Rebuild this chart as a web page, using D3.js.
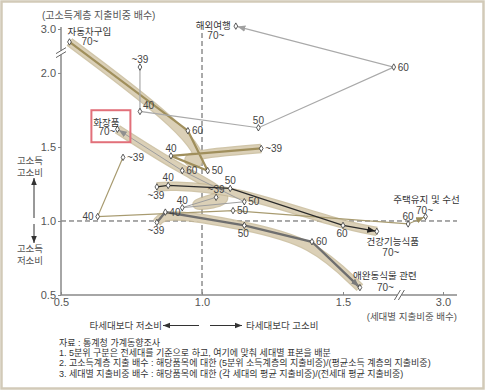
<!DOCTYPE html>
<html><head><meta charset="utf-8">
<script src="https://cdn.jsdelivr.net/npm/d3@7/dist/d3.min.js"></script>
<style>
body{margin:0;background:#fff}
svg{display:block}
text{font-family:"Liberation Sans","Noto Sans CJK KR",sans-serif}
</style>
</head><body>
<svg id="chart" width="485" height="390"></svg>
<script>
// ---------- data ----------
const ages = ["~39", "40", "50", "60", "70~"];
const categories = ["자동차구입", "해외여행", "화장품", "주택유지 및 수선", "건강기능식품", "애완동식물 관련"];
// x: 세대별 지출비중 배수, y: 고소득계층 지출비중 배수  (order: ~39, 40, 50, 60, 70~)
const xCar    = [1.21, 0.89, 1.02, 0.95, 0.53];
const yCar    = [1.49, 1.44, 1.34, 1.61, 2.55];
const xTravel = [0.78, 0.78, 1.20, 1.68, 1.12];
const yTravel = [2.04, 1.74, 1.63, 2.04, 3.10];
const xCosm   = [1.05, 0.93, 1.15, 0.93, 0.70];
const yCosm   = [1.16, 1.09, 1.13, 1.34, 1.62];
const xHouse  = [0.72, 0.63, 1.11, 2.60, 2.80];
const yHouse  = [1.43, 1.03, 1.07, 0.98, 1.03];
const xHealth = [0.84, 0.88, 1.10, 1.50, 1.62];
const yHealth = [1.23, 1.24, 1.22, 0.97, 0.93];
const xPet    = [0.84, 0.87, 1.15, 1.39, 1.56];
const yPet    = [0.99, 1.06, 0.97, 0.86, 0.55];
const xTicks = [0.5, 1.0, 1.5, 3.0];
const yTicks = [0.5, 1.0, 1.5, 2.0, 3.0];
const yTitle = "(고소득계층 지출비중 배수)";
const xTitle = "(세대별 지출비중 배수)";
const sideUp = ["고소득", "고소비"];
const sideDown = ["고소득", "저소비"];
const lowText = "타세대보다 저소비";
const highText = "타세대보다 고소비";
const notes = [
  "자료 : 통계청 가계동향조사",
  "1. 5분위 구분은 전세대를 기준으로 하고, 여기에 맞춰 세대별 표본을 배분",
  "2. 고소득계층 지출 배수 : 해당품목에 대한 (5분위 소득계층의 지출비중)/(평균소득 계층의 지출비중)",
  "3. 세대별 지출비중 배수 : 해당품목에 대한 (각 세대의 평균 지출비중)/(전세대 평균 지출비중)"
];

// ---------- styles ----------
const styles = [
  {band:true,  color:"#a08f5c", lw:2.2, arrow:null,      lab:["r","t","r","r"], nameAt:[-2,-6.5,"start"], ageAt:[12,3.5,"start"]},
  {band:false, color:"#a9a9a9", lw:1.2, arrow:"#a0a0a0", lab:["t","tr","t","r"], nameAt:[-5,2.5,"end"],    ageAt:[-20,12.5,"middle"]},
  {band:true,  color:"#9d9d9d", lw:1.0, arrow:"#8f8f8f", lab:["t","t","r","r"],   nameAt:[-11,-3.5,"middle"], ageAt:[-2,6,"end"], box:true},
  {band:false, color:"#a89b70", lw:1.2, arrow:"#9e9060", lab:["r","l","r","t"],   nameAt:[1,-14,"middle"],  ageAt:[-1,-3,"middle"]},
  {band:true,  color:"#2a2a2a", lw:1.3, arrow:"#222",    lab:["b","t","t","b"],   nameAt:[16,13.5,"middle"], ageAt:[14,24.5,"middle"]},
  {band:true,  color:"#6f6f6f", lw:2.4, arrow:"#7a7a7a", lab:["b","r","b","r"],   nameAt:[25,-8.5,"middle"], ageAt:[17,3.5,"start"]}
];
const xsAll = [xCar, xTravel, xCosm, xHouse, xHealth, xPet];
const ysAll = [yCar, yTravel, yCosm, yHouse, yHealth, yPet];
const off = {r:[4,3.5,"start"], l:[-4,3.5,"end"], t:[0,-4,"middle"], b:[-1,12,"middle"], tr:[3,-2,"start"]};

// ---------- scales ----------
const svg = d3.select("#chart");
const x = d3.scaleLinear().domain([0.5, 1.7, 2.5, 3.0]).range([61, 399.4, 399.4, 443]);
const y = d3.scaleLinear().domain([0.5, 2.135, 2.2, 3.0]).range([295, 53, 52, 29]);
const plotL = 61, plotR = 457, plotT = 27, plotB = 295;

// frame
svg.append("rect").attr("x",1.5).attr("y",1.5).attr("width",482).attr("height",387)
  .attr("fill","#fff").attr("stroke","#d2cab8").attr("stroke-width",2.5);

// reference dashed lines
svg.append("line").attr("x1",x(1)).attr("x2",x(1)).attr("y1",33).attr("y2",plotB)
  .attr("stroke","#555").attr("stroke-dasharray","5,3").attr("stroke-width",1);
svg.append("line").attr("x1",plotL).attr("x2",plotR).attr("y1",y(1)).attr("y2",y(1))
  .attr("stroke","#555").attr("stroke-dasharray","5,3").attr("stroke-width",1);

// axes
const gy = svg.append("g").attr("transform",`translate(${plotL},0)`)
  .call(d3.axisLeft(y).tickValues(yTicks).tickSize(3).tickPadding(2).tickFormat(d3.format(".1f")));
const gx = svg.append("g").attr("transform",`translate(0,${plotB})`)
  .call(d3.axisBottom(x).tickValues(xTicks).tickSize(-3).tickPadding(3).tickFormat(d3.format(".1f")));
[gx, gy].forEach(g => {
  g.select(".domain").remove();
  g.selectAll("line").attr("stroke","#888");
  g.selectAll("text").attr("fill","#555").style("font-size","11px");
});
svg.append("line").attr("x1",plotL).attr("x2",plotL).attr("y1",plotT).attr("y2",plotB).attr("stroke","#888").attr("stroke-width",1.5);
svg.append("line").attr("x1",plotL).attr("x2",plotR).attr("y1",plotB).attr("y2",plotB).attr("stroke","#888").attr("stroke-width",1.5);

// axis breaks
const yb = y(2.16), xb = x(1.7);
svg.append("rect").attr("x",plotL-3).attr("y",yb-2).attr("width",6).attr("height",4).attr("fill","#fff");
[-2,2].forEach(d => svg.append("line").attr("x1",plotL-5).attr("x2",plotL+5).attr("y1",yb+d+3).attr("y2",yb+d-3).attr("stroke","#666").attr("stroke-width",1));
svg.append("rect").attr("x",xb-2).attr("y",plotB-3).attr("width",4).attr("height",6).attr("fill","#fff");
[-2,2].forEach(d => svg.append("line").attr("x1",xb+d-3).attr("x2",xb+d+3).attr("y1",plotB+5).attr("y2",plotB-5).attr("stroke","#666").attr("stroke-width",1));

// markers
const defs = svg.append("defs");
styles.forEach((s,i) => {
  if (!s.arrow) return;
  defs.append("marker").attr("id","ar"+i).attr("viewBox","0 -5 10 10")
    .attr("refX",12).attr("refY",0).attr("markerWidth",8).attr("markerHeight",8)
    .attr("markerUnits","userSpaceOnUse").attr("orient","auto")
    .append("path").attr("d","M0,-4L10,0L0,4Z").attr("fill",s.arrow);
});
defs.append("marker").attr("id","arBlack").attr("viewBox","0 -5 10 10")
  .attr("refX",10).attr("refY",0).attr("markerWidth",7).attr("markerHeight",7)
  .attr("markerUnits","userSpaceOnUse").attr("orient","auto")
  .append("path").attr("d","M0,-4L10,0L0,4Z").attr("fill","#333");

const pts = i => xsAll[i].map((v,k) => [x(v), y(ysAll[i][k])]);

// bands
const band = d3.line().curve(d3.curveBasis);
styles.forEach((s,i) => {
  if (!s.band) return;
  const p = pts(i);
  svg.append("path").attr("d",band(p)).attr("fill","none").attr("stroke","#c4b694").attr("stroke-width",9.5).attr("stroke-linecap","butt").attr("opacity",0.8);
  svg.append("path").attr("d",band(p)).attr("fill","none").attr("stroke","#dbd0b7").attr("stroke-width",7).attr("stroke-linecap","butt");
});

// series lines
const line = d3.line();
styles.forEach((s,i) => {
  svg.append("path").attr("d",line(pts(i))).attr("fill","none")
    .attr("stroke",s.color).attr("stroke-width",s.lw)
    .attr("marker-end", s.arrow ? `url(#ar${i})` : null);
});

// points
const sym = d3.symbol().type(d3.symbolDiamond).size(12);
styles.forEach((s,i) => {
  svg.append("g").selectAll("path").data(pts(i)).join("path")
    .attr("d",sym).attr("transform",d=>`translate(${d[0]},${d[1]})`)
    .attr("fill","#fff").attr("stroke","#333").attr("stroke-width",0.8);
});

// point labels
styles.forEach((s,i) => {
  const p = pts(i);
  s.lab.forEach((o,k) => {
    const [dx,dy,anc] = off[o];
    svg.append("text").attr("x",p[k][0]+dx).attr("y",p[k][1]+dy).attr("text-anchor",anc)
      .attr("fill","#444").style("font-size","10px").text(ages[k]);
  });
  const e = p[4];
  if (s.box) {
    svg.append("rect").attr("x",e[0]-26).attr("y",e[1]-19).attr("width",39).attr("height",32)
      .attr("fill","none").attr("stroke","#e2707a").attr("stroke-width",2);
  }
  svg.append("text").attr("x",e[0]+s.nameAt[0]).attr("y",e[1]+s.nameAt[1]).attr("text-anchor",s.nameAt[2])
    .attr("fill","#333").style("font-size","9.5px").text(categories[i]);
  svg.append("text").attr("x",e[0]+s.ageAt[0]).attr("y",e[1]+s.ageAt[1]).attr("text-anchor",s.ageAt[2])
    .attr("fill","#444").style("font-size","10px").text(ages[4]);
});

// titles and annotations
svg.append("text").attr("x",42).attr("y",18.5).attr("fill","#555").style("font-size","10px").text(yTitle);
svg.append("text").attr("x",plotR).attr("y",319.5).attr("text-anchor","end").attr("fill","#555").style("font-size","9.5px").text(xTitle);

sideUp.forEach((t,k) => svg.append("text").attr("x",30).attr("y",164+k*11.5).attr("text-anchor","middle").attr("fill","#555").style("font-size","9.5px").text(t));
sideDown.forEach((t,k) => svg.append("text").attr("x",30).attr("y",252+k*11.5).attr("text-anchor","middle").attr("fill","#555").style("font-size","9.5px").text(t));
svg.append("line").attr("x1",34).attr("x2",34).attr("y1",218).attr("y2",178).attr("stroke","#333").attr("marker-end","url(#arBlack)");
svg.append("line").attr("x1",34).attr("x2",34).attr("y1",224).attr("y2",243).attr("stroke","#333").attr("marker-end","url(#arBlack)");

svg.append("text").attr("x",162).attr("y",329).attr("text-anchor","end").attr("fill","#444").style("font-size","9.5px").text(lowText);
svg.append("line").attr("x1",199).attr("x2",163).attr("y1",325.5).attr("y2",325.5).attr("stroke","#333").attr("marker-end","url(#arBlack)");
svg.append("line").attr("x1",210).attr("x2",242).attr("y1",325.5).attr("y2",325.5).attr("stroke","#333").attr("marker-end","url(#arBlack)");
svg.append("text").attr("x",246).attr("y",329).attr("fill","#444").style("font-size","9.5px").text(highText);

notes.forEach((t,k) => svg.append("text").attr("x",59).attr("y",345.5+k*10.4).attr("fill","#333").style("font-size","9px").text(t));
</script>
</body></html>
